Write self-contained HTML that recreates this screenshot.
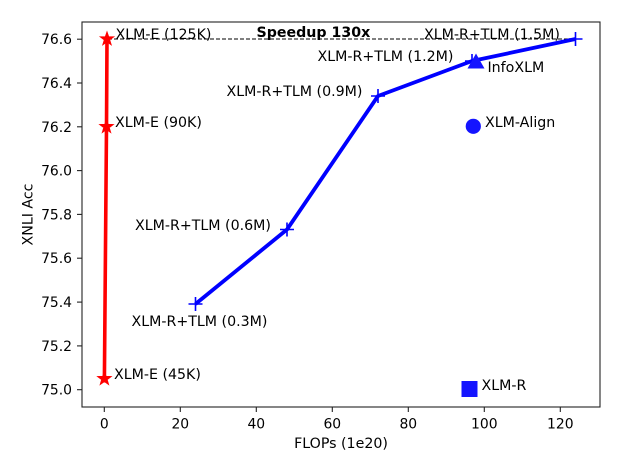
<!DOCTYPE html>
<html><head><meta charset="utf-8"><style>
html,body{margin:0;padding:0;background:#fff;}
svg{display:block;}
text{font-family:"DejaVu Sans","Liberation Sans",sans-serif;font-size:14.2px;fill:#000;}
text.tk{font-size:13.9px;}
</style></head><body>
<svg width="624" height="462" viewBox="0 0 624 462" xmlns="http://www.w3.org/2000/svg">
<defs>
<polygon id="star" points="0,-7 1.65,-2.27 6.66,-2.16 2.67,0.87 4.11,5.66 0,2.8 -4.11,5.66 -2.67,0.87 -6.66,-2.16 -1.65,-2.27" fill="#ff0000" stroke="#ff0000" stroke-width="1"/>
<path id="plus" d="M-7,0H7M0,-7V7" stroke="#0000ff" stroke-width="1.6" fill="none"/>
</defs>
<rect width="624" height="462" fill="#fff"/>
<line x1="108" y1="39" x2="575" y2="39" stroke="#000" stroke-width="1" stroke-dasharray="4 2"/>
<polyline points="104.4,378.7 106.5,126.7 107,39" fill="none" stroke="#ff0000" stroke-width="3.6" stroke-linejoin="round"/>
<use href="#star" x="104.4" y="378.7"/>
<use href="#star" x="106.5" y="126.7"/>
<use href="#star" x="107" y="39"/>
<polyline points="195.5,304 287,229.5 378,96 472,61 575.5,39" fill="none" stroke="#0000ff" stroke-width="3.8" stroke-linejoin="round"/>
<use href="#plus" x="195.5" y="304"/>
<use href="#plus" x="287" y="229.5"/>
<use href="#plus" x="378" y="96"/>
<use href="#plus" x="472" y="61"/>
<use href="#plus" x="575.5" y="39"/>
<polygon points="476,53.5 484.5,68.5 467.5,68.5" fill="#1414ff"/>
<circle cx="473.3" cy="126.3" r="7.6" fill="#1414ff"/>
<rect x="461.5" y="381" width="16" height="16" fill="#1414ff"/>
<g stroke="#222" stroke-width="1.1" fill="none">
<rect x="82" y="22" width="518" height="385"/>
<line x1="77" y1="389.7" x2="82" y2="389.7"/>
<line x1="77" y1="345.9" x2="82" y2="345.9"/>
<line x1="77" y1="302.1" x2="82" y2="302.1"/>
<line x1="77" y1="258.2" x2="82" y2="258.2"/>
<line x1="77" y1="214.4" x2="82" y2="214.4"/>
<line x1="77" y1="170.6" x2="82" y2="170.6"/>
<line x1="77" y1="126.8" x2="82" y2="126.8"/>
<line x1="77" y1="83" x2="82" y2="83"/>
<line x1="77" y1="39.2" x2="82" y2="39.2"/>
<line x1="104.3" y1="407" x2="104.3" y2="412"/>
<line x1="180.3" y1="407" x2="180.3" y2="412"/>
<line x1="256.3" y1="407" x2="256.3" y2="412"/>
<line x1="332.3" y1="407" x2="332.3" y2="412"/>
<line x1="408.3" y1="407" x2="408.3" y2="412"/>
<line x1="484.3" y1="407" x2="484.3" y2="412"/>
<line x1="560.3" y1="407" x2="560.3" y2="412"/>
</g>
<g text-anchor="end">
<text class="tk" x="72" y="394.7">75.0</text>
<text class="tk" x="72" y="350.9">75.2</text>
<text class="tk" x="72" y="307.1">75.4</text>
<text class="tk" x="72" y="263.2">75.6</text>
<text class="tk" x="72" y="219.4">75.8</text>
<text class="tk" x="72" y="175.6">76.0</text>
<text class="tk" x="72" y="131.8">76.2</text>
<text class="tk" x="72" y="88">76.4</text>
<text class="tk" x="72" y="44.2">76.6</text>
</g>
<g text-anchor="middle">
<text class="tk" x="104.3" y="428.5">0</text>
<text class="tk" x="180.3" y="428.5">20</text>
<text class="tk" x="256.3" y="428.5">40</text>
<text class="tk" x="332.3" y="428.5">60</text>
<text class="tk" x="408.3" y="428.5">80</text>
<text class="tk" x="484.3" y="428.5">100</text>
<text class="tk" x="560.3" y="428.5">120</text>
<text x="341" y="448">FLOPs (1e20)</text>
<text x="0" y="0" transform="translate(32.5,214.5) rotate(-90)">XNLI Acc</text>
</g>
<text x="256.5" y="37" font-weight="bold">Speedup 130x</text>
<text x="115.5" y="39">XLM-E (125K)</text>
<text x="115" y="127">XLM-E (90K)</text>
<text x="114" y="379">XLM-E (45K)</text>
<text x="131.5" y="326">XLM-R+TLM (0.3M)</text>
<text x="135" y="230">XLM-R+TLM (0.6M)</text>
<text x="226.5" y="96">XLM-R+TLM (0.9M)</text>
<text x="317.5" y="61">XLM-R+TLM (1.2M)</text>
<text x="424" y="39">XLM-R+TLM (1.5M)</text>
<text x="487.5" y="72">InfoXLM</text>
<text x="485" y="127">XLM-Align</text>
<text x="481.5" y="390">XLM-R</text>
</svg>
</body></html>
